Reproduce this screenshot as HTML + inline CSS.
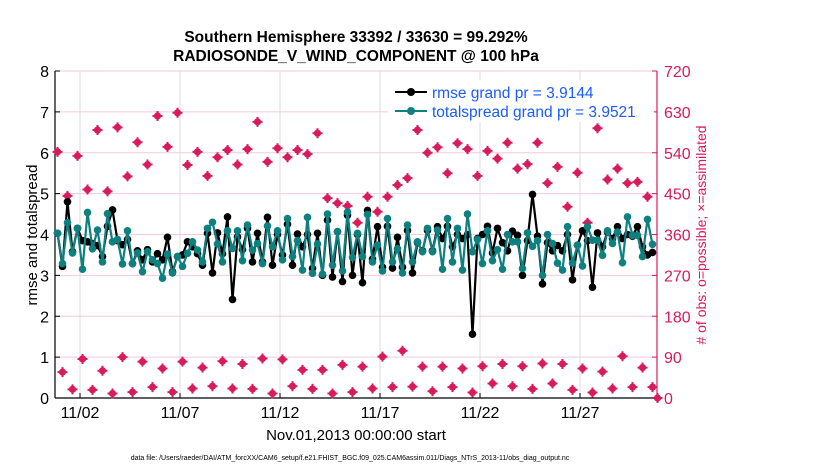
<!DOCTYPE html>
<html><head><meta charset="utf-8"><style>
body{margin:0;background:#fff;}
svg{display:block;font-family:"Liberation Sans",sans-serif;}
</style></head><body>
<svg id="chart" width="830" height="470" viewBox="0 0 830 470" xmlns="http://www.w3.org/2000/svg">
<g id="grid"></g>
<g id="axes"></g>
<g id="marks"></g>
<text x="356" y="42" text-anchor="middle" font-size="15.5" font-weight="bold">Southern Hemisphere 33392 / 33630 = 99.292%</text>
<text x="356" y="61" text-anchor="middle" font-size="15.5" font-weight="bold">RADIOSONDE_V_WIND_COMPONENT @ 100 hPa</text>
<text x="356" y="440" text-anchor="middle" font-size="15">Nov.01,2013 00:00:00 start</text>
<text transform="translate(37,235) rotate(-90)" text-anchor="middle" font-size="15">rmse and totalspread</text>
<text transform="translate(706,235) rotate(-90)" text-anchor="middle" font-size="14" fill="#d81b5a">#  of obs: o=possible; ×=assimilated</text>
<text x="350" y="460" text-anchor="middle" font-size="7">data file: /Users/raeder/DAI/ATM_forcXX/CAM6_setup/f.e21.FHIST_BGC.f09_025.CAM6assim.011/Diags_NTrS_2013-11/obs_diag_output.nc</text>
<g>
<rect x="388" y="80" width="266" height="42" fill="#fff"/>
<g><line x1="395" y1="92" x2="427" y2="92" stroke="#000" stroke-width="2"/><circle cx="411" cy="92" r="4" fill="#000"/><text x="432" y="98" font-size="15.5" fill="#1a5cff">rmse grand pr = 3.9144</text></g>
<g><line x1="395" y1="111" x2="427" y2="111" stroke="#0e8080" stroke-width="2"/><circle cx="411" cy="111" r="4" fill="#0e8080"/><text x="432" y="117" font-size="15.5" fill="#1a5cff">totalspread grand pr = 3.9521</text></g>
</g>
</svg>
<script>
const rmse=[4.03,3.22,4.80,3.58,4.15,3.85,3.82,3.78,3.73,3.46,4.20,4.60,3.85,3.75,3.88,3.29,3.60,3.38,3.63,3.33,
3.53,3.38,3.93,3.09,3.46,3.50,3.82,3.70,3.53,3.25,4.03,3.06,4.04,3.53,4.43,2.41,3.94,3.63,4.15,3.33,
4.03,3.33,4.42,3.25,4.00,3.50,4.25,3.25,4.01,3.70,4.00,3.17,4.03,3.00,4.35,2.96,4.07,2.85,4.47,3.00,
4.00,2.82,4.59,3.40,4.19,3.20,4.20,3.18,3.93,3.20,4.10,3.06,3.80,3.60,4.10,3.60,4.19,3.90,4.20,3.70,
4.00,3.90,4.00,1.56,3.90,4.00,4.20,3.55,4.15,3.80,3.60,4.08,3.98,3.00,3.85,4.98,3.96,2.79,3.80,3.60,
3.73,3.60,4.00,2.89,3.74,4.09,3.85,2.71,4.04,3.70,4.06,3.90,4.19,3.90,4.00,3.96,4.19,3.70,3.50,3.56];
const spread=[4.03,3.29,4.29,3.55,4.15,3.15,4.54,3.65,4.11,3.33,4.51,3.82,3.88,3.28,4.09,3.29,3.55,3.09,3.58,3.38,
3.29,2.93,3.52,3.06,3.46,3.22,3.54,3.82,3.62,3.33,4.15,4.30,3.77,3.33,4.09,3.66,4.09,3.36,4.23,3.62,
3.78,3.29,4.21,3.70,4.09,3.38,4.39,3.46,3.85,3.13,4.42,3.05,3.77,3.03,4.50,3.25,4.07,3.11,4.55,3.44,
4.03,3.46,4.49,3.33,3.74,3.11,4.39,3.33,3.65,3.06,4.23,3.33,3.82,3.58,4.15,3.58,4.11,3.15,4.39,3.33,
4.15,3.13,4.50,3.58,3.88,3.29,4.09,3.36,3.63,3.15,4.00,3.82,3.82,3.17,4.04,3.71,3.85,3.00,4.00,3.78,
3.30,3.13,4.19,3.30,3.74,3.23,4.19,3.86,3.86,3.49,4.09,3.78,4.06,3.31,4.43,3.98,3.98,3.46,4.37,3.76];
const nobs=[542,57,445,19,533,86,459,18,590,60,455,10,596,90,488,13,563,80,514,24,
621,65,553,13,628,80,513,21,542,67,489,26,530,81,546,21,514,75,548,20,
608,87,520,10,550,85,530,26,546,62,537,20,583,62,440,10,429,73,423,13,
386,69,443,21,410,91,443,24,469,104,484,25,590,69,540,15,552,69,495,24,
561,65,548,12,489,70,544,32,527,75,562,26,505,70,515,20,562,76,473,32,
509,75,421,18,496,65,386,12,594,58,481,21,505,92,473,24,476,67,443,24,0];
const leftTicks=[0,1,2,3,4,5,6,7,8];
const rightTicks=[0,90,180,270,360,450,540,630,720];
const dayTicks=[1,6,11,16,21,26];
const dayLabels=["11/02","11/07","11/12","11/17","11/22","11/27"];

const X0=55,X1=657,Y0=398,Y1=71;
const xScale=t=>60+20*t;           // t in days since Nov 01 00:00
const tOf=i=>i*0.25-0.125;
const yL=v=>Y0-(Y0-Y1)*v/8;
const yR=v=>Y0-(Y0-Y1)*v/720;
const NS="http://www.w3.org/2000/svg";
function mk(tag,attrs,parent){const e=document.createElementNS(NS,tag);for(const k in attrs)e.setAttribute(k,attrs[k]);parent.appendChild(e);return e;}
const grid=document.getElementById('grid'),axes=document.getElementById('axes'),marks=document.getElementById('marks');
mk('rect',{x:X0,y:Y1,width:X1-X0,height:Y0-Y1,fill:'#fff'},grid);
leftTicks.forEach(v=>{
  const g=mk('line',{x1:X0,x2:X1,y1:yL(v),y2:yL(v),stroke:'#f2cbd9','stroke-width':1},grid);
  
  
  const t=mk('text',{x:X0-6,y:yL(v)+6,'text-anchor':'end','font-size':16},axes);
  t.textContent=v;
  
  
  mk('line',{x1:X0,x2:X0+5,y1:yL(v),y2:yL(v),stroke:'#000'},axes);
});
rightTicks.forEach(v=>{
  const t=mk('text',{x:X1+7,y:yR(v)+6,'font-size':16,fill:'#d81b5a'},axes);
  t.textContent=v;
  
  
  mk('line',{x1:X1-5,x2:X1,y1:yR(v),y2:yR(v),stroke:'#d81b5a'},axes);
});
dayTicks.forEach((d,k)=>{
  const x=xScale(d);
  const g=mk('line',{x1:x,x2:x,y1:Y1,y2:Y0,stroke:'#dcdcdc','stroke-width':1},grid);
  
  
  mk('line',{x1:x,x2:x,y1:Y0,y2:Y0-5,stroke:'#000'},axes);
  const t=mk('text',{x:x,y:418,'text-anchor':'middle','font-size':16},axes);
  t.textContent=dayLabels[k];
  
  
});
mk('line',{x1:X0,x2:X0,y1:Y1,y2:Y0,stroke:'#000','stroke-width':1.2},axes);
mk('line',{x1:X0,x2:X1,y1:Y0,y2:Y0,stroke:'#000','stroke-width':1.2},axes);
mk('line',{x1:X1,x2:X1,y1:Y1,y2:Y0,stroke:'#d81b5a','stroke-width':1.2},axes);

// obs counts
nobs.forEach((v,i)=>{
  const x=xScale(tOf(i)),y=yR(v);
  const g=mk('g',{},marks);
  
  
  mk('circle',{cx:x,cy:y,r:3.6,fill:'#d81b5a'},g);
  mk('path',{d:`M${x-5},${y}H${x+5}M${x},${y-5}V${y+5}`,stroke:'#d81b5a','stroke-width':2},g);
});
function series(arr,color,name){
  const pts=arr.map((v,i)=>xScale(tOf(i)).toFixed(1)+','+yL(v).toFixed(1)).join(' ');
  const pl=mk('polyline',{points:pts,fill:'none',stroke:color,'stroke-width':2.2},marks);
  
  
  arr.forEach((v,i)=>{
    const c=mk('circle',{cx:xScale(tOf(i)),cy:yL(v),r:3.8,fill:color},marks);
    
    
  });
}
series(rmse,'#000','rmse');
series(spread,'#0e8080','totalspread');
</script>
</body></html>
